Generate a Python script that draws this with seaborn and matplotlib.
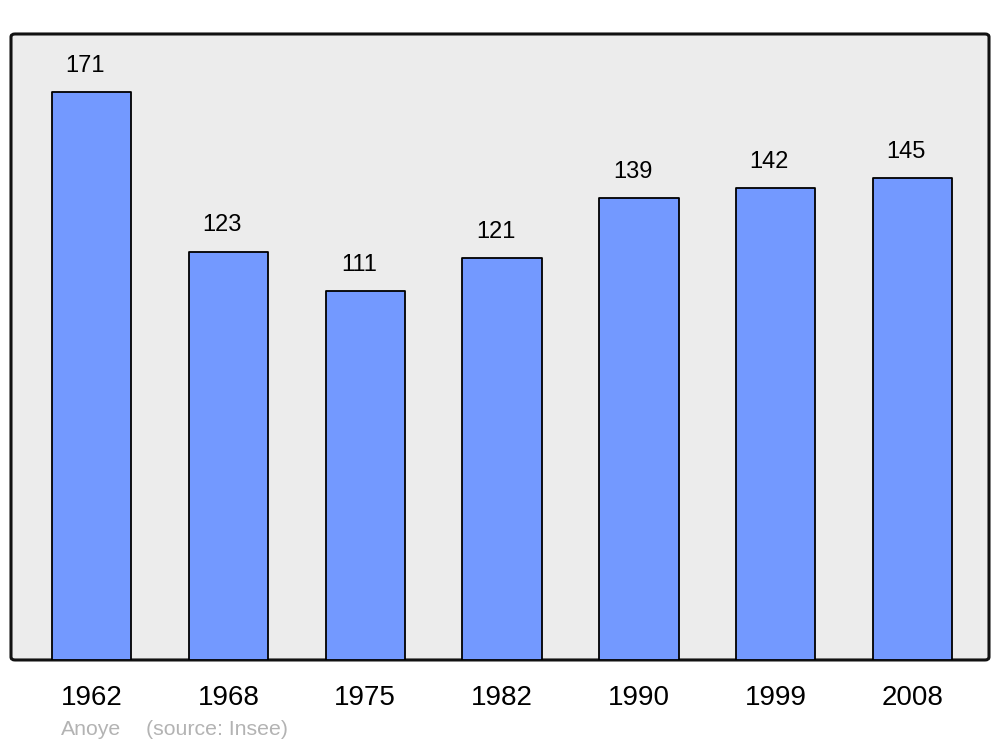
import matplotlib
matplotlib.use('Agg')
import matplotlib.pyplot as plt
from matplotlib.patches import FancyBboxPatch
import seaborn as sns
import pandas as pd

years = ['1962', '1968', '1975', '1982', '1990', '1999', '2008']
population = [171, 123, 111, 121, 139, 142, 145]

sns.set_style('white')
plt.rcParams['font.family'] = ['Liberation Sans', 'DejaVu Sans']
plt.rcParams['text.color'] = 'black'
plt.rcParams['xtick.color'] = 'black'

df = pd.DataFrame({'year': years, 'pop': population})

fig = plt.figure(figsize=(10, 7.47), dpi=100)
ax = fig.add_axes([0.011, 0.1165, 0.978, 0.838])
ax.set_facecolor('none')

# rounded frame behind the axes
frame = FancyBboxPatch((0.011, 0.1165), 0.978, 0.838,
                       boxstyle='round,pad=0,rounding_size=0.004',
                       transform=fig.transFigure, facecolor='#ececec',
                       edgecolor='#111111', linewidth=2.2, zorder=-1)
fig.patches.append(frame)

sns.barplot(data=df, x='year', y='pop', color='#7399ff', saturation=1,
            width=0.58, edgecolor='black', linewidth=1.3, ax=ax)
for p in ax.patches:
    p.set_joinstyle('round')

ax.set_ylim(0, 188.5)
ax.set_xlim(-0.59, 6.56)

# value labels above bars
for i, v in enumerate(population):
    ax.annotate(str(v), (i, v), xytext=(-4.5, 19), textcoords='offset points',
                ha='center', va='center', fontsize=17, color='black')

ax.set_yticks([])
ax.tick_params(axis='x', length=0, labelsize=20, pad=18)
ax.set_xlabel('')
ax.set_ylabel('')
for s in ax.spines.values():
    s.set_visible(False)

fig.text(0.061, 0.023, 'Anoye', color='#b3b3b3', fontsize=15.3,
         ha='left', va='center')
fig.text(0.146, 0.023, '(source: Insee)', color='#b3b3b3', fontsize=15.3,
         ha='left', va='center')

fig.savefig('out.png', dpi=100)
